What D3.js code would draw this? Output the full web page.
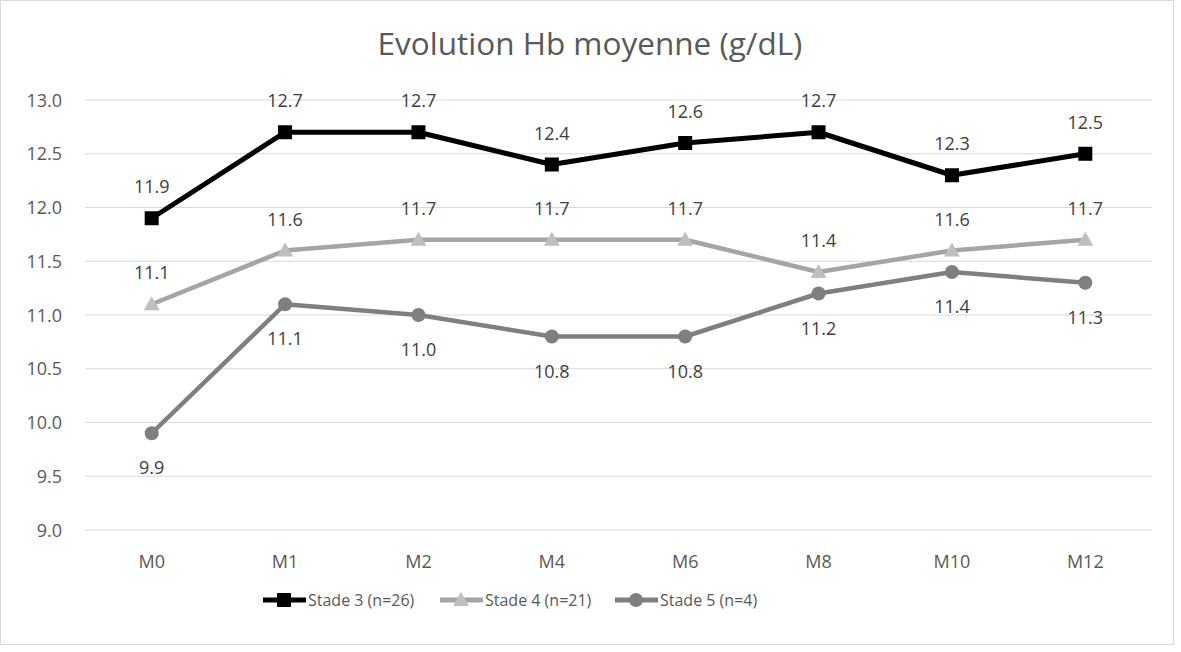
<!DOCTYPE html>
<html>
<head>
<meta charset="utf-8">
<script src="https://cdn.jsdelivr.net/npm/d3@7"></script>
<style>
  body { margin: 0; background: #fff; }
  svg { font-family: "Open Sans", "Noto Sans", sans-serif; }
</style>
</head>
<body>
<svg></svg>
<script>
const width = 1181;
const height = 652;

const months = ["M0", "M1", "M2", "M4", "M6", "M8", "M10", "M12"];
const stade3 = [11.9, 12.7, 12.7, 12.4, 12.6, 12.7, 12.3, 12.5];
const stade4 = [11.1, 11.6, 11.7, 11.7, 11.7, 11.4, 11.6, 11.7];
const stade5 = [9.9, 11.1, 11.0, 10.8, 10.8, 11.2, 11.4, 11.3];
const yTicks = [9.0, 9.5, 10.0, 10.5, 11.0, 11.5, 12.0, 12.5, 13.0];

const series = [
  { name: "Stade 3 (n=26)", values: stade3, line: "#000000", fill: "#000000", marker: "square", labelPos: "above" },
  { name: "Stade 4 (n=21)", values: stade4, line: "#A5A5A5", fill: "#BFBFBF", marker: "triangle", labelPos: "above" },
  { name: "Stade 5 (n=4)", values: stade5, line: "#7F7F7F", fill: "#7F7F7F", marker: "circle", labelPos: "below" }
];

const svg = d3.select("svg")
  .attr("width", width)
  .attr("height", height);

svg.append("rect")
  .attr("x", 0.5).attr("y", 0.5)
  .attr("width", width - 8).attr("height", height - 8)
  .attr("fill", "#fff")
  .attr("stroke", "#D9D9D9");

const x = d3.scaleBand().domain(months).range([85, 1152]);
const y = d3.scaleLinear().domain([9, 13]).range([530, 100]);

// gridlines
svg.append("g")
  .selectAll("line")
  .data(yTicks)
  .enter()
  .append("line")
  .attr("x1", 85).attr("x2", 1152)
  .attr("y1", d => y(d)).attr("y2", d => y(d))
  .attr("stroke", "#D9D9D9")
  .attr("stroke-width", 1);

// y axis labels
svg.append("g")
  .selectAll("text")
  .data(yTicks)
  .enter()
  .append("text")
  .attr("x", 62)
  .attr("y", d => y(d) + 6.5)
  .attr("text-anchor", "end")
  .attr("font-size", 18)
  .attr("fill", "#595959")
  .text(d => d.toFixed(1));

// x axis labels
svg.append("g")
  .selectAll("text")
  .data(months)
  .enter()
  .append("text")
  .attr("x", d => x(d) + x.bandwidth() / 2)
  .attr("y", 568)
  .attr("text-anchor", "middle")
  .attr("font-size", 18)
  .attr("fill", "#595959")
  .text(d => d);

// title
svg.append("text")
  .attr("x", 590)
  .attr("y", 55)
  .attr("text-anchor", "middle")
  .attr("font-size", 31.5)
  .attr("fill", "#595959")
  .text("Evolution Hb moyenne (g/dL)");

const cx = d => x(d) + x.bandwidth() / 2;

function drawMarker(g, s, px, py) {
  if (s.marker === "square") {
    g.append("rect").attr("x", px - 7).attr("y", py - 7).attr("width", 14).attr("height", 14).attr("fill", s.fill);
  } else if (s.marker === "triangle") {
    g.append("path").attr("d", `M${px},${py - 8}L${px + 8},${py + 6}L${px - 8},${py + 6}Z`).attr("fill", s.fill);
  } else {
    g.append("circle").attr("cx", px).attr("cy", py).attr("r", 7).attr("fill", s.fill);
  }
}

const line = d3.line()
  .x((d, i) => cx(months[i]))
  .y(d => y(d));

series.forEach(s => {
  const g = svg.append("g");
  g.append("path")
    .attr("d", line(s.values))
    .attr("fill", "none")
    .attr("stroke", s.line)
    .attr("stroke-width", s.marker === "square" ? 5 : 4.5)
    .attr("stroke-linejoin", "round");
  s.values.forEach((v, i) => drawMarker(g, s, cx(months[i]), y(v)));
  g.selectAll("text")
    .data(s.values)
    .enter()
    .append("text")
    .attr("x", (d, i) => cx(months[i]))
    .attr("y", d => s.labelPos === "above" ? y(d) - 25 : y(d) + 41)
    .attr("text-anchor", "middle")
    .attr("font-size", 18)
    .attr("fill", "#404040")
    .text(d => d.toFixed(1));
});

// legend
const legendX = [263, 440, 615];
series.forEach((s, i) => {
  const g = svg.append("g");
  const lx = legendX[i];
  const ly = 600;
  g.append("line")
    .attr("x1", lx).attr("x2", lx + 43)
    .attr("y1", ly).attr("y2", ly)
    .attr("stroke", s.line)
    .attr("stroke-width", 5);
  drawMarker(g, s, lx + 21, ly);
  g.append("text")
    .attr("x", lx + 45)
    .attr("y", ly + 6)
    .attr("font-size", 16)
    .attr("fill", "#595959")
    .text(s.name);
});
</script>
</body>
</html>
